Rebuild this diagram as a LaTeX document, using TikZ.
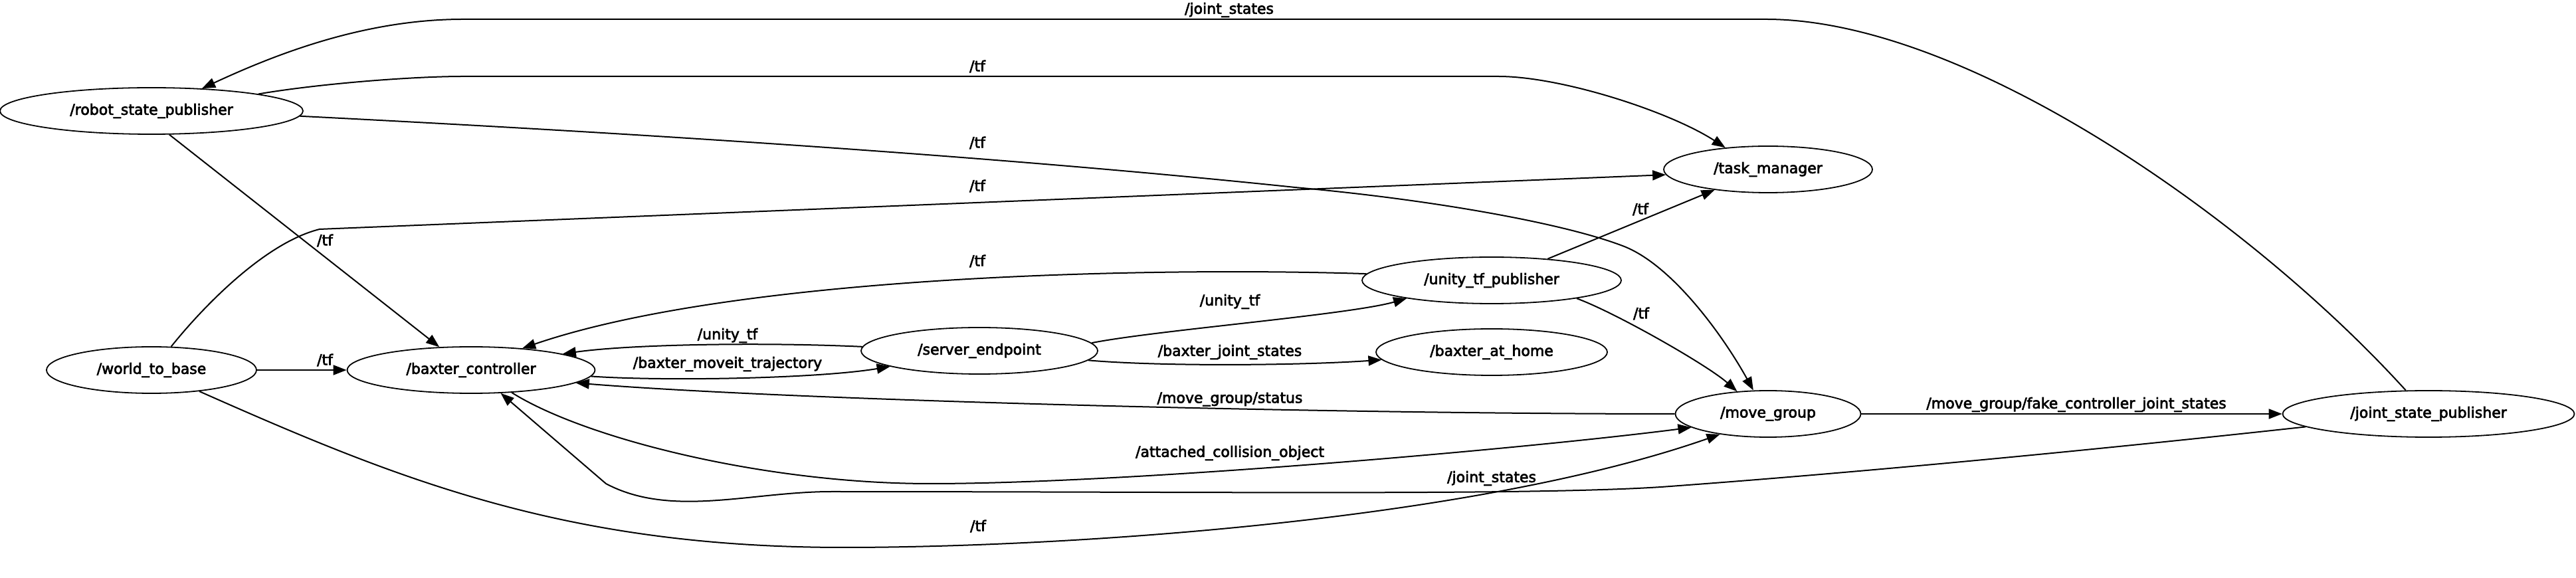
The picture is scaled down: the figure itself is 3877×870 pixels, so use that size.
\documentclass[tikz,border=0pt]{standalone}
\usepackage{fontspec}
\setmainfont{DejaVu Sans}
\newfontfamily\graphfont{DejaVu Sans}[FakeBold=3]
\usetikzlibrary{arrows.meta,shapes.geometric}
\begin{document}
\begin{tikzpicture}[x=0.5pt,y=-0.5pt,line width=1pt,
    >={Triangle[length=10pt,width=7.5pt]},
    rosnode/.style={draw,ellipse,line width=0.9pt,inner sep=0pt,minimum height=35pt,font=\graphfont\fontsize{11}{13}\selectfont},
    topic/.style={inner sep=0pt,font=\graphfont\fontsize{11}{13}\selectfont}]
    \useasboundingbox (0,0) rectangle (3877,870);
    % Nodes
    \node[rosnode,minimum width=228pt] (rsp) at (228,167) {/robot\_state\_publisher};
    \node[rosnode,minimum width=158pt] (w2b) at (228,557) {/world\_to\_base};
    \node[rosnode,minimum width=186.5pt] (bc) at (709,557) {/baxter\_controller};
    \node[rosnode,minimum width=178pt] (se) at (1474,528) {/server\_endpoint};
    \node[rosnode,minimum width=195pt] (utp) at (2245,422) {/unity\_tf\_publisher};
    \node[rosnode,minimum width=174pt] (bah) at (2245,530) {/baxter\_at\_home};
    \node[rosnode,minimum width=157pt] (tm) at (2661,255) {/task\_manager};
    \node[rosnode,minimum width=139.5pt] (mg) at (2661,623) {/move\_group};
    \node[rosnode,minimum width=219.5pt] (jsp) at (3655,623) {/joint\_state\_publisher};
    % Joint states
    \draw[->] (jsp.134) .. controls (3387,330) and (2958,29) .. (2658,29) -- (697,29) .. controls (547,29) and (412,83) .. (rsp.24);
    \node[topic] (jsTop) at (1850,15) {/joint\_states};
    \draw[->] (jsp.186) .. controls (3100,683) and (2750,715) .. (2500,733) .. controls (2300,746) and (1800,740) .. (1251,740) .. controls (1130,740) and (1010,780) .. (912,728) -- (bc.-38);
    \node[topic] (jsLow) at (2245,720) {/joint\_states};
    % tf from robot_state_publisher
    \draw[->] (rsp.9) .. controls (480,126) and (620,115) .. (697,115) -- (2255,115) .. controls (2350,115) and (2513,168) .. (tm.153);
    \node[topic] (tfRspTm) at (1471,100) {/tf};
    \draw[->] (rsp.-2) .. controls (950,200) and (1500,235) .. (1949,282) .. controls (2150,300) and (2350,335) .. (2442,370) .. controls (2517,398) and (2595,508) .. (mg.122);
    \node[topic] (tfRspMg) at (1471,215) {/tf};
    \draw[->] (rsp.-53) -- (bc.144);
    \node[topic] (tfRspBc) at (489,362) {/tf};
    % tf from world_to_base
    \draw[->] (w2b.50) .. controls (307,460) and (400,365) .. (481,345) -- (tm.183);
    \node[topic] (tfW2bTm) at (1471,280) {/tf};
    \draw[->] (w2b) -- (bc);
    \node[topic] (tfW2bBc) at (489,542) {/tf};
    \draw[->] (w2b.-24) .. controls (600,722) and (850,824) .. (1270,824) .. controls (1600,824) and (2213,785) .. (mg.-157);
    \node[topic] (tfW2bMg) at (1472,792) {/tf};
    % tf from unity_tf_publisher
    \draw[->] (utp.177) .. controls (1750,402) and (1114,412) .. (bc.23);
    \node[topic] (tfUtpBc) at (1471,393) {/tf};
    \draw[->] (utp.21) -- (tm.201);
    \node[topic] (tfUtpTm) at (2469,315) {/tf};
    \draw[->] (utp.-12) .. controls (2430,470) and (2569,549) .. (mg.144);
    \node[topic] (tfUtpMg) at (2470,472) {/tf};
    % server_endpoint
    \draw[->] (se.4) .. controls (1740,497) and (2030,474) .. (utp.192);
    \node[topic] (utfSeUtp) at (1851,454) {/unity\_tf};
    \draw[->] (se.178) .. controls (1150,515) and (950,518) .. (bc.10);
    \node[topic] (utfSeBc) at (1095,505) {/unity\_tf};
    \draw[->] (bc.-3) .. controls (1000,574) and (1230,570) .. (se.190);
    \node[topic] (trajBcSe) at (1095,548) {/baxter\_moveit\_trajectory};
    \draw[->] (se.-5) .. controls (1750,552) and (1960,550) .. (bah.184);
    \node[topic] (bjsSeBah) at (1851,530) {/baxter\_joint\_states};
    % move_group
    \draw[->] (mg.west) .. controls (2000,623) and (1200,603) .. (bc.-7);
    \node[topic] (statMgBc) at (1851,601) {/move\_group/status};
    \draw[->] (bc.-29) .. controls (880,660) and (1150,728) .. (1400,728) .. controls (1700,728) and (2300,675) .. (mg.190);
    \node[topic] (acoBcMg) at (1851,682) {/attached\_collision\_object};
    \draw[->] (mg) -- (jsp);
    \node[topic] (fakeMgJsp) at (3125,609) {/move\_group/fake\_controller\_joint\_states};
\end{tikzpicture}
\end{document}
